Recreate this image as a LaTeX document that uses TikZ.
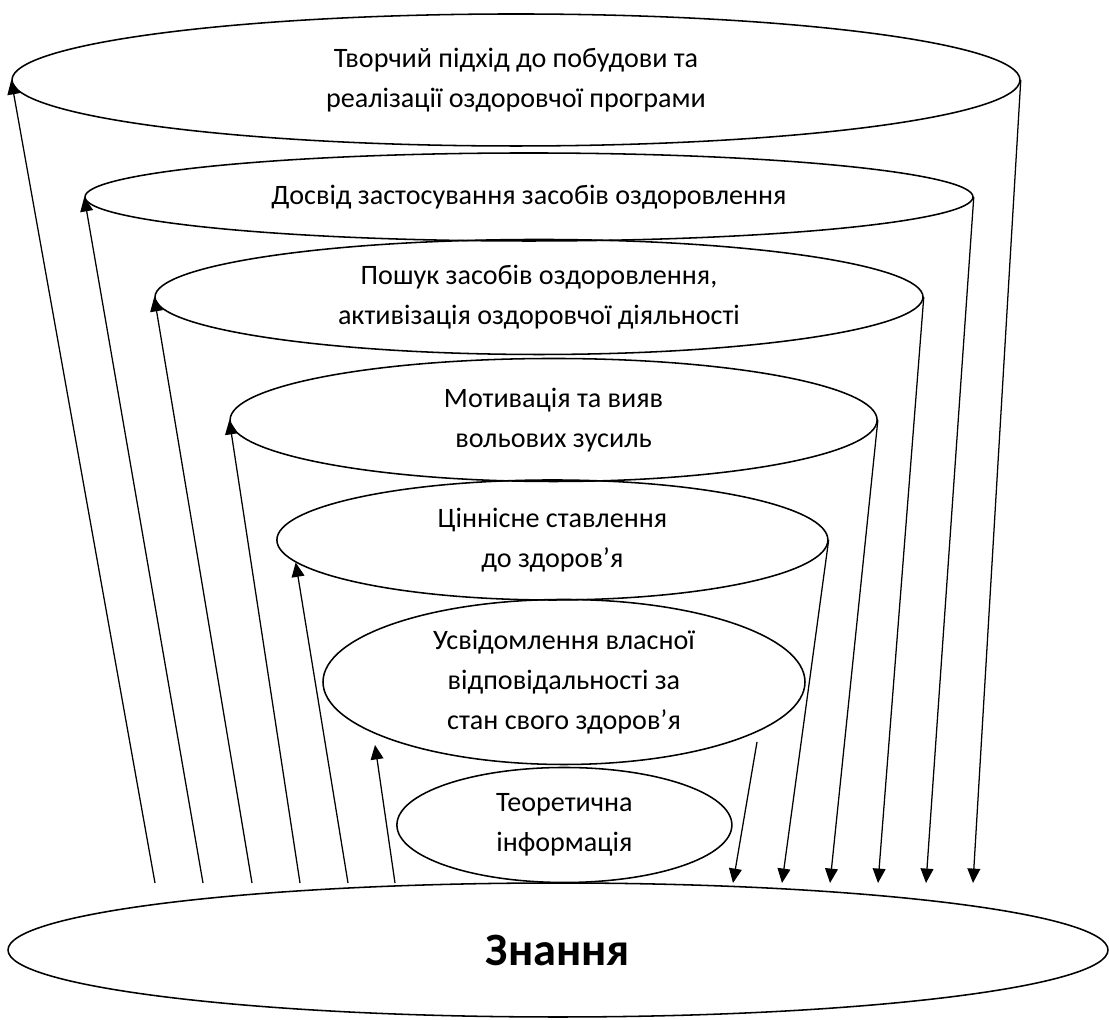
\documentclass[tikz,border=0pt]{standalone}
\usepackage{fontspec}
\setmainfont{Carlito}
\usetikzlibrary{shapes.geometric,arrows.meta}

\begin{document}
\begin{tikzpicture}[
  ring/.style={ellipse,draw,line width=1.1pt,inner sep=0pt,align=center,
    font=\fontsize{20}{28.5}\selectfont},
  base/.style={ellipse,draw,line width=1.1pt,inner sep=0pt,
    font=\fontsize{33}{40}\selectfont\bfseries},
  arr/.style={-{Triangle[length=3.6mm,width=3.2mm]},line width=0.9pt}
]
  \useasboundingbox (0,0) rectangle (27.725,25.5);

  % levels, from the top one down
  \node[ring,minimum width=25.2cm,minimum height=3.3cm] (tvorchist) at (12.9,23.5)
    {Творчий підхід до побудови та\\реалізації оздоровчої програми};
  \node[ring,minimum width=22.2cm,minimum height=2.2cm] (dosvid) at (13.225,20.575)
    {Досвід застосування засобів оздоровлення};
  \node[ring,minimum width=19.2cm,minimum height=2.875cm] (poshuk) at (13.475,18.075)
    {Пошук засобів оздоровлення,\\активізація оздоровчої діяльності};
  \node[ring,minimum width=16.175cm,minimum height=3.075cm] (motyv) at (13.84,15)
    {Мотивація та вияв\\вольових зусиль};
  \node[ring,minimum width=13.775cm,minimum height=3cm] (tsinnist) at (13.81,12)
    {Ціннісне ставлення\\до здоров’я};
  \node[ring,minimum width=12.05cm,minimum height=4.125cm] (usvid) at (14.1,8.45)
    {Усвідомлення власної\\відповідальності за\\стан свого здоров’я};
  \node[ring,minimum width=8.375cm,minimum height=2.875cm] (teoria) at (14.11,4.875)
    {Теоретична\\інформація};
  \node[base,minimum width=27.5cm,minimum height=3.35cm] (znannya) at (13.95,1.75)
    {Знання};

  % feet of the arrows above the base
  \coordinate (up1) at (3.875,3.425);
  \coordinate (up2) at (5.075,3.425);
  \coordinate (up3) at (6.3,3.425);
  \coordinate (up4) at (7.5,3.425);
  \coordinate (up5) at (8.7,3.425);
  \coordinate (up6) at (9.875,3.425);
  \coordinate (up6end) at (9.375,6.875);
  \coordinate (dn1) at (18.325,3.425);
  \coordinate (dn2) at (19.55,3.425);
  \coordinate (dn3) at (20.75,3.425);
  \coordinate (dn4) at (21.95,3.425);
  \coordinate (dn5) at (23.15,3.425);
  \coordinate (dn6) at (24.325,3.425);
  \coordinate (dn1start) at (18.925,6.95);

  % left side goes up
  \draw[arr] (up1) -- (tvorchist.west);
  \draw[arr] (up2) -- (dosvid.west);
  \draw[arr] (up3) -- (poshuk.west);
  \draw[arr] (up4) -- (motyv.west);
  \draw[arr] (up5) -- (tsinnist.185);
  \draw[arr] (up6) -- (up6end);

  % right side comes down
  \draw[arr] (dn1start) -- (dn1);
  \draw[arr] (tsinnist.east) -- (dn2);
  \draw[arr] (motyv.east) -- (dn3);
  \draw[arr] (poshuk.east) -- (dn4);
  \draw[arr] (dosvid.east) -- (dn5);
  \draw[arr] (tvorchist.east) -- (dn6);
\end{tikzpicture}
\end{document}
